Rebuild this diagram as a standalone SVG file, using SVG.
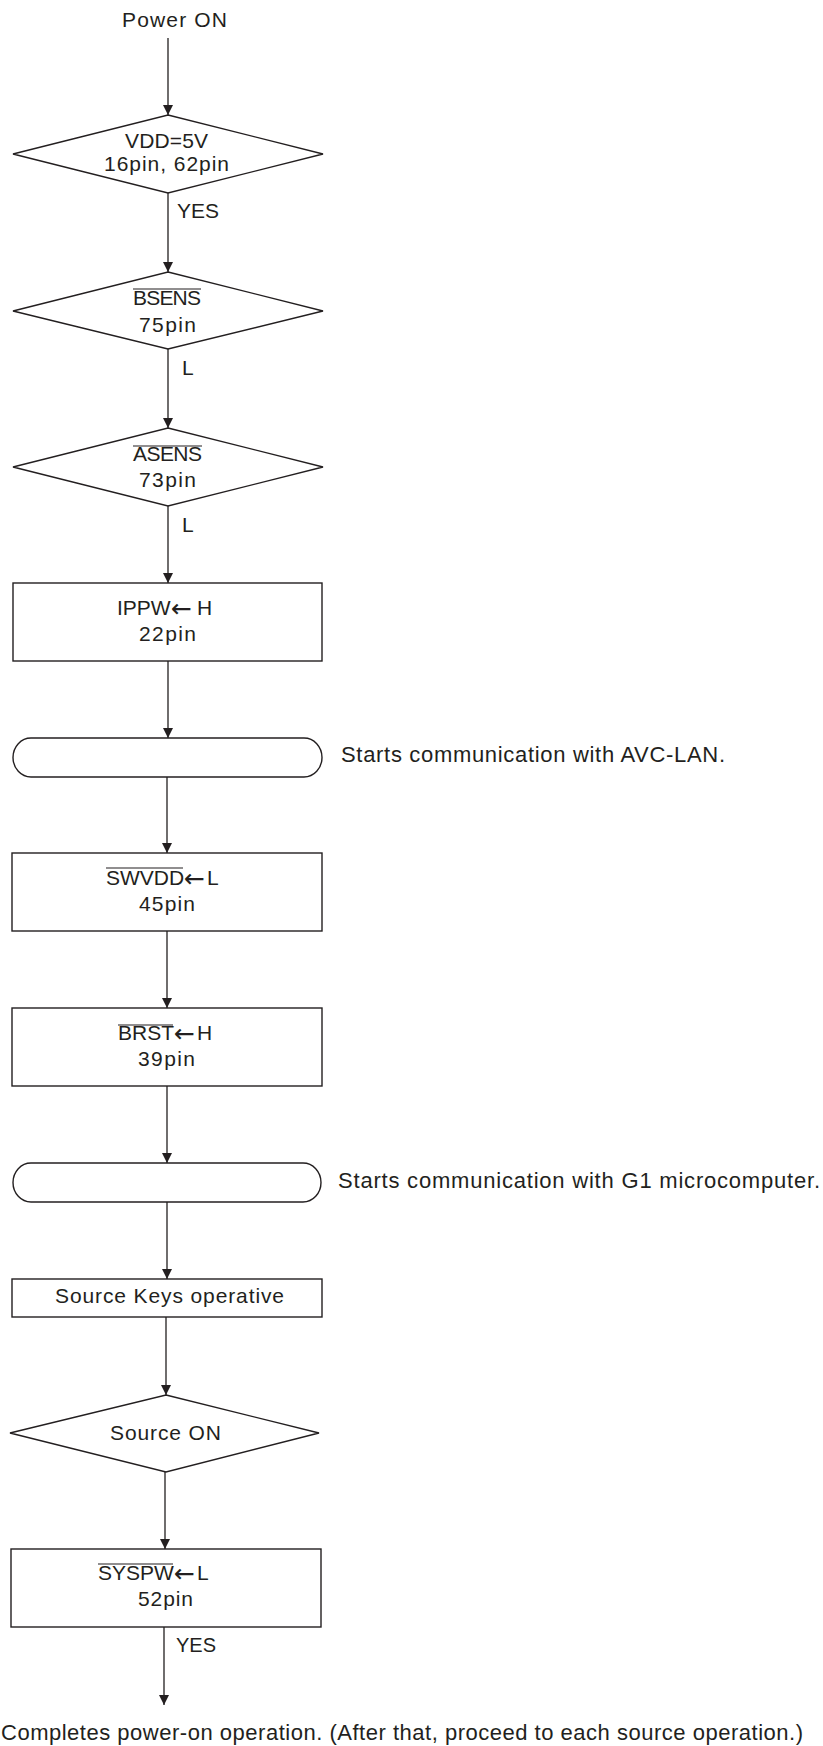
<svg xmlns="http://www.w3.org/2000/svg" width="823" height="1746" viewBox="0 0 823 1746">
<style>
  .shape { fill: #ffffff; stroke: #231f20; stroke-width: 1.4; }
  .conn { fill: none; stroke: #231f20; stroke-width: 1.3; marker-end: url(#arr); }
  .t { font-family: "Liberation Sans", Arial, sans-serif; font-size: 21px; fill: #231f20; }
  .side { font-size: 22px; }
  .foot { font-size: 22px; }
  .ar { font-family: "DejaVu Sans", sans-serif; font-size: 25px; }
  .ov { stroke: #231f20; stroke-width: 1.2; }
</style>
<defs>
  <marker id="arr" markerWidth="10" markerHeight="10" viewBox="0 0 10 10" refX="10" refY="5" orient="auto" markerUnits="userSpaceOnUse">
    <path d="M0,0 L10,5 L0,10 Z" fill="#231f20"/>
  </marker>
</defs>
<rect width="823" height="1746" fill="#ffffff"/>

<g id="connectors">
  <line class="conn" x1="168" y1="38" x2="168" y2="115"/>
  <line class="conn" x1="168" y1="193" x2="168" y2="272"/>
  <line class="conn" x1="168" y1="349" x2="168" y2="428"/>
  <line class="conn" x1="168" y1="506" x2="168" y2="583"/>
  <line class="conn" x1="168" y1="661" x2="168" y2="738"/>
  <line class="conn" x1="167" y1="777" x2="167" y2="853"/>
  <line class="conn" x1="167" y1="931" x2="167" y2="1008"/>
  <line class="conn" x1="167" y1="1086" x2="167" y2="1163"/>
  <line class="conn" x1="167" y1="1202" x2="167" y2="1279"/>
  <line class="conn" x1="166" y1="1317" x2="166" y2="1395"/>
  <line class="conn" x1="165" y1="1472" x2="165" y2="1549"/>
  <line class="conn" x1="164" y1="1627" x2="164" y2="1705"/>
  <text class="t" x="177" y="218" textLength="42" lengthAdjust="spacingAndGlyphs">YES</text>
  <text class="t" x="182" y="375">L</text>
  <text class="t" x="182" y="532">L</text>
  <text class="t" x="176" y="1652" textLength="40" lengthAdjust="spacingAndGlyphs">YES</text>
</g>

<g id="start">
  <text class="t" x="122" y="27" textLength="105" lengthAdjust="spacing">Power ON</text>
</g>

<g id="vdd">
  <polygon class="shape" points="168,115 323,154 168,193 13,154"/>
  <text class="t" x="125" y="148" textLength="83" lengthAdjust="spacing">VDD=5V</text>
  <text class="t" x="104" y="171" textLength="125" lengthAdjust="spacing">16pin, 62pin</text>
</g>

<g id="bsens">
  <polygon class="shape" points="168,272 323,311 168,349 13,311"/>
  <line class="ov" x1="133" y1="289" x2="201" y2="289"/>
  <text class="t" x="133" y="305" textLength="68" lengthAdjust="spacing">BSENS</text>
  <text class="t" x="139" y="332" textLength="57" lengthAdjust="spacing">75pin</text>
</g>

<g id="asens">
  <polygon class="shape" points="168,428 323,467 168,506 13,467"/>
  <line class="ov" x1="133" y1="446" x2="202" y2="446"/>
  <text class="t" x="133" y="461" textLength="69" lengthAdjust="spacing">ASENS</text>
  <text class="t" x="139" y="487" textLength="57" lengthAdjust="spacing">73pin</text>
</g>

<g id="ippw">
  <rect class="shape" x="13" y="583" width="309" height="78"/>
  <text class="t" x="117" y="615">IPPW<tspan class="ar" x="171" y="617">←</tspan><tspan x="197" y="615">H</tspan></text>
  <text class="t" x="139" y="641" textLength="57" lengthAdjust="spacing">22pin</text>
</g>

<g id="avclan">
  <rect class="shape" x="13" y="738" width="309" height="39" rx="18" ry="19.5"/>
  <text class="t side" x="341" y="762" textLength="384" lengthAdjust="spacing">Starts communication with AVC-LAN.</text>
</g>

<g id="swvdd">
  <rect class="shape" x="12" y="853" width="310" height="78"/>
  <line class="ov" x1="106" y1="868" x2="183" y2="868"/>
  <text class="t" x="106" y="885">SWVDD<tspan class="ar" x="184" y="887">←</tspan><tspan x="207" y="885">L</tspan></text>
  <text class="t" x="139" y="911" textLength="56" lengthAdjust="spacing">45pin</text>
</g>

<g id="brst">
  <rect class="shape" x="12" y="1008" width="310" height="78"/>
  <line class="ov" x1="118" y1="1025" x2="173" y2="1025"/>
  <text class="t" x="118" y="1040">BRST<tspan class="ar" x="174" y="1042">←</tspan><tspan x="197" y="1040">H</tspan></text>
  <text class="t" x="138" y="1066" textLength="57" lengthAdjust="spacing">39pin</text>
</g>

<g id="g1comm">
  <rect class="shape" x="13" y="1163" width="308" height="39" rx="18" ry="19.5"/>
  <text class="t side" x="338" y="1188" textLength="482" lengthAdjust="spacing">Starts communication with G1 microcomputer.</text>
</g>

<g id="sourcekeys">
  <rect class="shape" x="12" y="1279" width="310" height="38"/>
  <text class="t" x="55" y="1303" textLength="229" lengthAdjust="spacing">Source Keys operative</text>
</g>

<g id="sourceon">
  <polygon class="shape" points="166,1395 319,1433 166,1472 10,1433"/>
  <text class="t" x="110" y="1440" textLength="111" lengthAdjust="spacing">Source ON</text>
</g>

<g id="syspw">
  <rect class="shape" x="11" y="1549" width="310" height="78"/>
  <line class="ov" x1="98" y1="1564" x2="173" y2="1564"/>
  <text class="t" x="98" y="1580">SYSPW<tspan class="ar" x="174" y="1582">←</tspan><tspan x="197" y="1580">L</tspan></text>
  <text class="t" x="138" y="1606" textLength="55" lengthAdjust="spacing">52pin</text>
</g>

<g id="end">
  <text class="t foot" x="1" y="1740" textLength="802" lengthAdjust="spacing">Completes power-on operation. (After that, proceed to each source operation.)</text>
</g>
</svg>
